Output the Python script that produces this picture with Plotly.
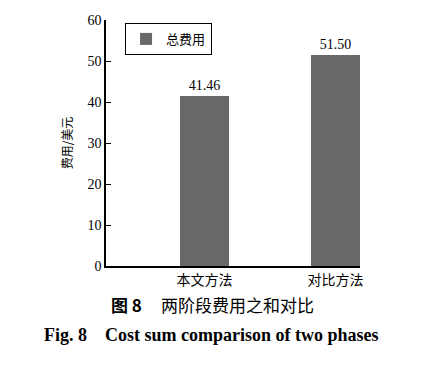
import plotly.graph_objects as go

categories = ["本文方法", "对比方法"]
values = [41.46, 51.50]
series_name = "总费用"
y_ticks = [0, 10, 20, 30, 40, 50, 60]

SERIF = "Liberation Serif, Times New Roman, serif"
CJK = "Noto Sans CJK SC"

fig = go.Figure()
fig.add_trace(go.Bar(
    x=list(range(len(categories))), y=values, name=series_name,
    width=0.374, marker=dict(color="#686868", line=dict(width=0)),
    texttemplate="%{y:.2f}", textposition="outside",
    textfont=dict(family=SERIF, size=14, color="black"),
    cliponaxis=False, showlegend=True,
))

fig.update_layout(
    width=425, height=367,
    margin=dict(l=106, r=65, t=20, b=101),
    plot_bgcolor="white", paper_bgcolor="white",
    bargap=0,
    font=dict(family=SERIF, size=13, color="black"),
    legend=dict(
        x=0.075, y=0.988, xanchor="left", yanchor="top",
        bordercolor="black", borderwidth=1, bgcolor="white",
        font=dict(family=CJK, size=13, color="black"),
        itemwidth=30,
        tracegroupgap=0,
    ),
    xaxis=dict(
        range=[-0.752, 1.187],
        tickvals=list(range(len(categories))), ticktext=categories,
        showline=True, linecolor="black", linewidth=1.5,
        ticks="", showgrid=False, zeroline=False,
        tickfont=dict(family=CJK, size=14, color="black"),
    ),
    yaxis=dict(
        range=[0, 60], tickvals=y_ticks,
        showline=True, linecolor="black", linewidth=1.5,
        ticks="inside", ticklen=5, tickwidth=1.2, tickcolor="black",
        showgrid=False, zeroline=False,
        tickfont=dict(family=SERIF, size=14, color="black"),
        title=dict(text="费用/美元", font=dict(family=CJK, size=12, color="black"), standoff=12),
    ),
    annotations=[
        dict(text="<b>图 8</b>     两阶段费用之和对比", xref="paper", yref="paper",
             x=0.42, y=-0.158, xanchor="center", yanchor="middle", showarrow=False,
             font=dict(family=CJK, size=17, color="black")),
        dict(text="<b>Fig. 8    Cost sum comparison of two phases</b>", xref="paper", yref="paper",
             x=0.415, y=-0.28, xanchor="center", yanchor="middle", showarrow=False,
             font=dict(family=SERIF, size=18, color="black")),
    ],
)

fig.write_html("out.html", config={"displayModeBar": False},
               post_script="document.body.style.margin='0';")
